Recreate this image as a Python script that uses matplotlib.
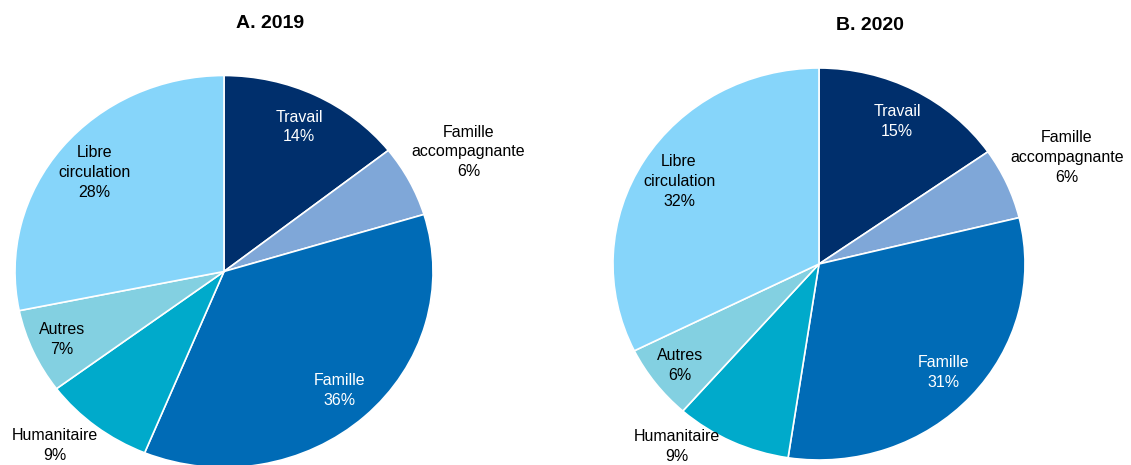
import numpy as np
import matplotlib
matplotlib.use("Agg")
import matplotlib.pyplot as plt

plt.rcParams['font.family'] = ['Liberation Sans', 'DejaVu Sans']

# Données (en % des entrées)
categories = ["Travail", "Famille\naccompagnante", "Famille", "Humanitaire", "Autres", "Libre\ncirculation"]
valeurs_2019 = [14.4, 5.9, 35.9, 8.6, 7.0, 28.2]
valeurs_2020 = [15.3, 5.9, 31.2, 9.1, 6.2, 32.3]
titres = ["A. 2019", "B. 2020"]

couleurs = ["#002F6C", "#7FA7D8", "#006BB6", "#00AACB", "#83D0E1", "#86D5FA"]
couleurs_texte = ["white", "black", "white", "black", "black", "black"]

W, H = 1131, 465
fig = plt.figure(figsize=(W / 100, H / 100), dpi=100)

# centre et rayons des camemberts (en pixels)
centres = [(224, 271.5), (819, 264)]
rayons = [(209, 196), (206, 196)]
# distance des étiquettes et petit décalage angulaire
distances = [[0.82, 1.32, 0.82, 1.2, 0.85, 0.8],
             [0.82, 1.32, 0.82, 1.16, 0.85, 0.8]]
decalages = [[0, 0, 0, -4.5, 0, 0], [0, 0, 0, -11.5, 0, 0]]
titres_pos = [(270, 23), (870, 25)]


def dessiner(valeurs, titre, centre, rayon, dist, decal, tpos):
    cx, cy = centre
    rx, ry = rayon
    ax = fig.add_axes([(cx - 1.5 * rx) / W, (H - cy - 1.5 * ry) / H,
                       3 * rx / W, 3 * ry / H])
    wedges, _ = ax.pie(valeurs, colors=couleurs, startangle=90, counterclock=False,
                       wedgeprops=dict(edgecolor="white", linewidth=1.2))
    ax.set_aspect("auto")
    ax.set_xlim(-1.5, 1.5)
    ax.set_ylim(-1.5, 1.5)
    ax.axis("off")
    total = sum(valeurs)
    for i, w in enumerate(wedges):
        ang = np.deg2rad((w.theta1 + w.theta2) / 2 + decal[i])
        d = dist[i]
        pct = round(valeurs[i] / total * 100)
        ax.text(d * np.cos(ang), d * np.sin(ang), f"{categories[i]}\n{pct}%",
                ha="center", va="center", fontsize=11.5, color=couleurs_texte[i],
                linespacing=1.4, clip_on=False)
    fig.text(tpos[0] / W, 1 - tpos[1] / H, titre, ha="center", va="center",
             fontsize=14, fontweight="bold")


dessiner(valeurs_2019, titres[0], centres[0], rayons[0], distances[0], decalages[0], titres_pos[0])
dessiner(valeurs_2020, titres[1], centres[1], rayons[1], distances[1], decalages[1], titres_pos[1])

fig.savefig("out.png", dpi=100)
